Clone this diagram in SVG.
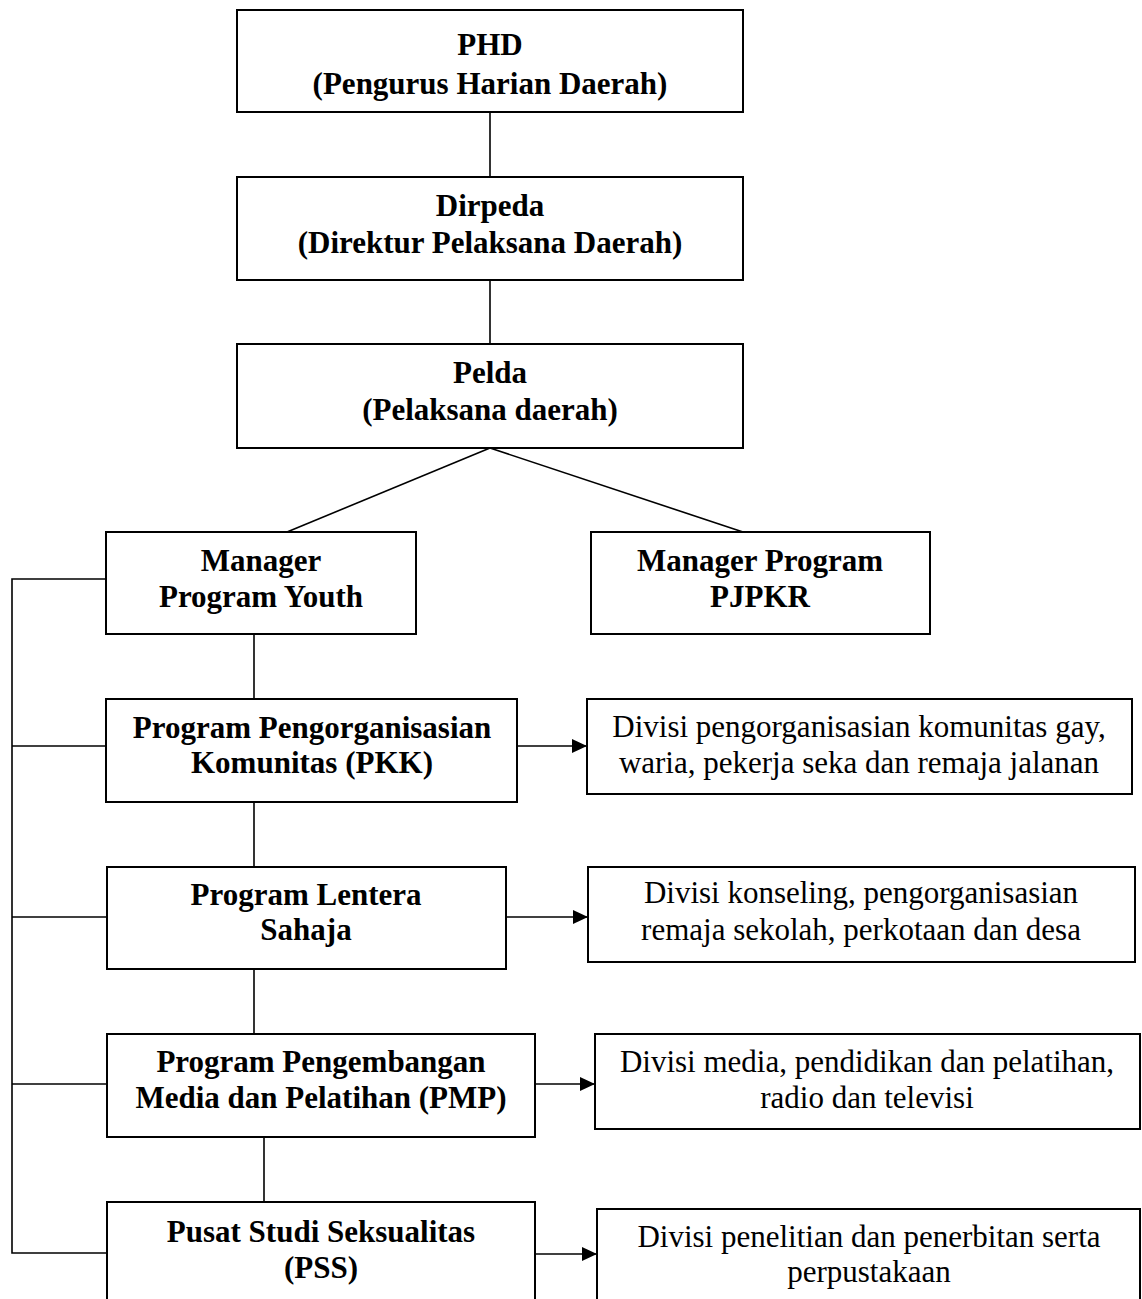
<svg xmlns="http://www.w3.org/2000/svg" width="1142" height="1299" viewBox="0 0 1142 1299">
<defs>
<style>
.box{fill:#fff;stroke:#000;stroke-width:2}
.b{font-family:"Liberation Serif","Times New Roman",serif;font-weight:bold;font-size:31px;fill:#000;text-anchor:middle}
.n{font-family:"Liberation Serif","Times New Roman",serif;font-size:31px;fill:#000;text-anchor:middle}
.ln{stroke:#000;stroke-width:1.6;fill:none}
</style>
<marker id="arr" markerWidth="16" markerHeight="14" refX="15" refY="7" orient="auto" markerUnits="userSpaceOnUse">
<path d="M0,0 L15,7 L0,14 Z" fill="#000"/>
</marker>
</defs>
<rect width="1142" height="1299" fill="#fff"/>
<g id="connectors">
<line class="ln" x1="490" y1="112" x2="490" y2="177"/>
<line class="ln" x1="490" y1="280" x2="490" y2="344"/>
<line class="ln" x1="490" y1="448" x2="287" y2="532"/>
<line class="ln" x1="490" y1="448" x2="743" y2="532"/>
<line class="ln" x1="254" y1="634" x2="254" y2="699"/>
<line class="ln" x1="254" y1="802" x2="254" y2="867"/>
<line class="ln" x1="254" y1="969" x2="254" y2="1034"/>
<line class="ln" x1="264" y1="1137" x2="264" y2="1202"/>
<polyline class="ln" points="106,579 12,579 12,1253 107,1253"/>
<line class="ln" x1="12" y1="746" x2="106" y2="746"/>
<line class="ln" x1="12" y1="917" x2="107" y2="917"/>
<line class="ln" x1="12" y1="1084" x2="107" y2="1084"/>
<line class="ln" x1="517" y1="746" x2="587" y2="746" marker-end="url(#arr)"/>
<line class="ln" x1="506" y1="917" x2="588" y2="917" marker-end="url(#arr)"/>
<line class="ln" x1="535" y1="1084" x2="595" y2="1084" marker-end="url(#arr)"/>
<line class="ln" x1="535" y1="1254" x2="597" y2="1254" marker-end="url(#arr)"/>
</g>
<g id="phd">
<rect class="box" x="237" y="10" width="506" height="102"/>
<text class="b" x="490" y="55">PHD</text>
<text class="b" x="490" y="94">(Pengurus Harian Daerah)</text>
</g>
<g id="dirpeda">
<rect class="box" x="237" y="177" width="506" height="103"/>
<text class="b" x="490" y="216">Dirpeda</text>
<text class="b" x="490" y="253">(Direktur Pelaksana Daerah)</text>
</g>
<g id="pelda">
<rect class="box" x="237" y="344" width="506" height="104"/>
<text class="b" x="490" y="383">Pelda</text>
<text class="b" x="490" y="420">(Pelaksana daerah)</text>
</g>
<g id="manager-youth">
<rect class="box" x="106" y="532" width="310" height="102"/>
<text class="b" x="261" y="571">Manager</text>
<text class="b" x="261" y="607">Program Youth</text>
</g>
<g id="manager-pjpkr">
<rect class="box" x="591" y="532" width="339" height="102"/>
<text class="b" x="760" y="571">Manager Program</text>
<text class="b" x="760" y="607">PJPKR</text>
</g>
<g id="pkk">
<rect class="box" x="106" y="699" width="411" height="103"/>
<text class="b" x="312" y="738">Program Pengorganisasian</text>
<text class="b" x="312" y="773">Komunitas (PKK)</text>
</g>
<g id="divisi-pkk">
<rect class="box" x="587" y="699" width="545" height="95"/>
<text class="n" x="859" y="737">Divisi pengorganisasian komunitas gay,</text>
<text class="n" x="859" y="773">waria, pekerja seka dan remaja jalanan</text>
</g>
<g id="lentera">
<rect class="box" x="107" y="867" width="399" height="102"/>
<text class="b" x="306" y="905">Program Lentera</text>
<text class="b" x="306" y="940">Sahaja</text>
</g>
<g id="divisi-lentera">
<rect class="box" x="588" y="867" width="547" height="95"/>
<text class="n" x="861" y="903">Divisi konseling, pengorganisasian</text>
<text class="n" x="861" y="940">remaja sekolah, perkotaan dan desa</text>
</g>
<g id="pmp">
<rect class="box" x="107" y="1034" width="428" height="103"/>
<text class="b" x="321" y="1072">Program Pengembangan</text>
<text class="b" x="321" y="1108">Media dan Pelatihan (PMP)</text>
</g>
<g id="divisi-pmp">
<rect class="box" x="595" y="1034" width="545" height="95"/>
<text class="n" x="867" y="1072">Divisi media, pendidikan dan pelatihan,</text>
<text class="n" x="867" y="1108">radio dan televisi</text>
</g>
<g id="pss">
<rect class="box" x="107" y="1202" width="428" height="110"/>
<text class="b" x="321" y="1242">Pusat Studi Seksualitas</text>
<text class="b" x="321" y="1278">(PSS)</text>
</g>
<g id="divisi-pss">
<rect class="box" x="597" y="1209" width="543" height="110"/>
<text class="n" x="869" y="1247">Divisi penelitian dan penerbitan serta</text>
<text class="n" x="869" y="1282">perpustakaan</text>
</g>
</svg>
